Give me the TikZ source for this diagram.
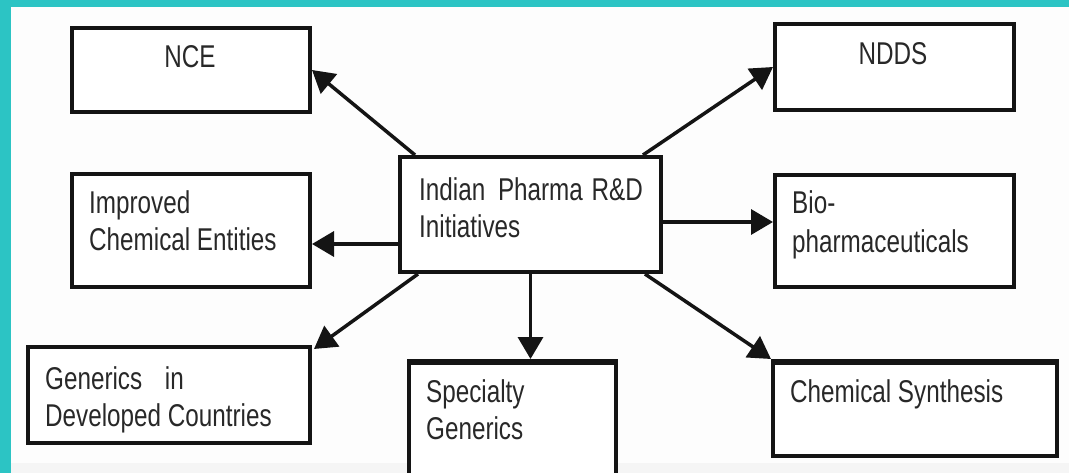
\documentclass[tikz,border=0pt]{standalone}
\usepackage{fontspec}
\setmainfont{Liberation Sans}
\newfontfamily\labfont[FakeStretch=0.77]{Liberation Sans}
\usetikzlibrary{arrows.meta}
\definecolor{tealband}{RGB}{44,196,196}
\definecolor{ink}{RGB}{20,20,20}
\definecolor{txt}{RGB}{40,40,40}
\definecolor{paper}{RGB}{253,253,253}
\begin{document}
\begin{tikzpicture}[x=1pt,y=-1pt,
  box/.style={draw=ink, line width=3.8pt, fill=white, inner sep=0pt},
  lab/.style={font=\labfont\fontsize{31.5}{37}\selectfont, text=txt, inner sep=0pt, align=left},
  arr/.style={draw=ink, line width=3.5pt, -{Triangle[length=22pt,width=25pt]}},
  topedge/.style={draw=ink, line width=6pt}]
\useasboundingbox (0,0) rectangle (1069,473);
\clip (0,0) rectangle (1069,473);
\fill[paper] (0,0) rectangle (1069,473);
\fill[black!4] (0,463) rectangle (1069,473);
\fill[tealband] (0,0) rectangle (1069,7.5);
\fill[tealband] (0,0) rectangle (11,473);

% boxes
\node[box, minimum width=238.2pt, minimum height=84.2pt] (nce) at (191,70) {};
\node[box, minimum width=239.2pt, minimum height=86.2pt] (ndds) at (894.5,67) {};
\node[box, minimum width=261.2pt, minimum height=115.2pt] (c) at (530.5,214.5) {};
\node[box, minimum width=238.2pt, minimum height=113.2pt] (imp) at (191,230.5) {};
\node[box, minimum width=239.2pt, minimum height=112.2pt] (bio) at (894.5,231) {};
\node[box, minimum width=282.2pt, minimum height=96.2pt] (gen) at (169,395) {};
\node[box, minimum width=207.2pt, minimum height=118.2pt] (spec) at (512.5,420) {};
\node[box, minimum width=284.2pt, minimum height=95.2pt] (chem) at (915,408.5) {};
\draw[topedge] ([yshift=-3pt]spec.north west) -- ([yshift=-3pt]spec.north east);
\draw[topedge] ([yshift=-3pt]chem.north west) -- ([yshift=-3pt]chem.north east);

% texts
\node[lab, anchor=base] (tnce) at (190,68) {NCE};
\node[lab, anchor=base] (tndds) at (893,65) {NDDS};
\node[lab, anchor=north west] (tc) at (419,177) {Indian\hspace{6pt} Pharma\hspace{2pt} R\&D\\Initiatives};
\node[lab, anchor=north west] (timp) at (89,190) {Improved\\Chemical Entities};
\node[lab, anchor=north west] (tbio) at (792,190) {Bio-\\[2pt]pharmaceuticals};
\node[lab, anchor=north west] (tgen) at (45,366) {Generics\hspace{16pt} in\\Developed Countries};
\node[lab, anchor=north west] (tspec) at (426,379) {Specialty\\Generics};
\node[lab, anchor=base west] (tchem) at (790,402) {Chemical Synthesis};

% connectors
\draw[arr] ([xshift=17pt]c.north west) -- (nce.east);
\draw[arr] ([xshift=-20pt]c.north east) -- (ndds.west);
\draw[arr] ([yshift=-29.5pt]c.west) -- ([yshift=-29.5pt]c.west -| imp.east);
\draw[arr] ([yshift=-7.5pt]c.east) -- ([yshift=-7.5pt]c.east -| bio.west);
\draw[arr] ([xshift=20pt]c.south west) -- ([xshift=2pt,yshift=-4pt]gen.north east);
\draw[arr] (c.south) -- (c.south |- spec.north);
\draw[arr] ([xshift=-18pt]c.south east) -- (chem.north west);
\end{tikzpicture}
\end{document}
